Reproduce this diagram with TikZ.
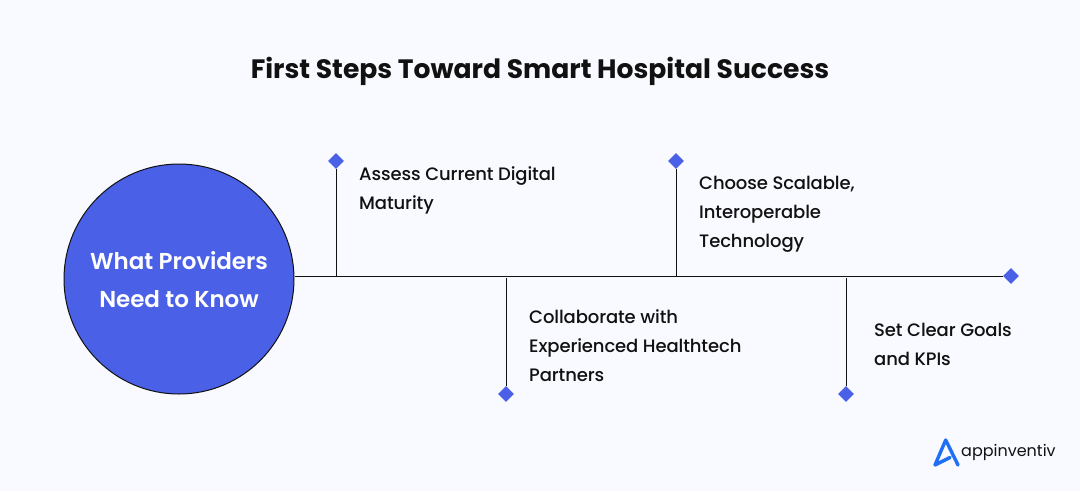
\documentclass[tikz,border=0pt]{standalone}
\usepackage{fontspec}
\setmainfont{Poppins}
\newfontfamily\itemfam[LetterSpace=-0.6]{Poppins Medium}
\newfontfamily\hubfam[LetterSpace=-0.3]{Poppins SemiBold}
\usetikzlibrary{shapes.geometric}
\definecolor{bgc}{HTML}{F9FAFF}
\definecolor{bluec}{HTML}{4A60E6}
\definecolor{logoc}{HTML}{1F6FF5}
\definecolor{inkc}{HTML}{111111}
\tikzset{
 marker/.style={diamond,fill=bluec,minimum width=16pt,minimum height=16pt,inner sep=0pt,draw=none},
 linec/.style={draw=inkc,line width=1pt},
 itemtext/.style={anchor=north west,align=left,inner sep=0pt,text=inkc,font=\fontsize{18}{29}\selectfont\itemfam},
}
\begin{document}
\begin{tikzpicture}[x=1pt,y=-1pt]
\useasboundingbox[fill=bgc] (0,0) rectangle (1080,491);
\node[inner sep=0pt,font=\fontsize{26.6}{32}\selectfont\bfseries,text=inkc] (title) at (540,71) {First Steps Toward Smart Hospital Success};
\node[circle,fill=bluec,draw=inkc,line width=1pt,minimum size=230pt,inner sep=0pt] (hub) at (179,279) {};
\node[inner sep=0pt,align=center,text=white,font=\fontsize{23}{38}\selectfont\hubfam] (hubtext) at (179,280) {What Providers\\Need to Know};
\coordinate (endp) at (1011,276);
\node[marker] (m5) at (endp) {};
\draw[linec] (hub.east |- endp) -- (m5);
\coordinate (j1) at (336,276);\coordinate (j2) at (506,278);\coordinate (j3) at (676,276);\coordinate (j4) at (846,278);
\node[marker] (m1) at (336,161) {};
\node[marker] (m2) at (506,394) {};
\node[marker] (m3) at (676,161) {};
\node[marker] (m4) at (846,394) {};
\draw[linec] (m1) -- (j1);
\draw[linec] (m2) -- (j2);
\draw[linec] (m3) -- (j3);
\draw[linec] (m4) -- (j4);
\node[itemtext] (t1) at (359,166.5) {Assess Current Digital\\Maturity};
\node[itemtext] (t2) at (529,309.5) {Collaborate with\\Experienced Healthtech\\Partners};
\node[itemtext] (t3) at (699,175.5) {Choose Scalable,\\Interoperable\\Technology};
\node[itemtext] (t4) at (874,322.5) {Set Clear Goals\\and KPIs};
\draw[logoc,line width=3.4pt,line join=round,line cap=round] (950,457.5) -- (935,465) -- (945.7,440) -- (958,465);
\node[anchor=west,inner sep=0pt,text=inkc,font=\fontsize{16}{20}\selectfont] (logo) at (961,452) {appinventiv};
\end{tikzpicture}
\end{document}
